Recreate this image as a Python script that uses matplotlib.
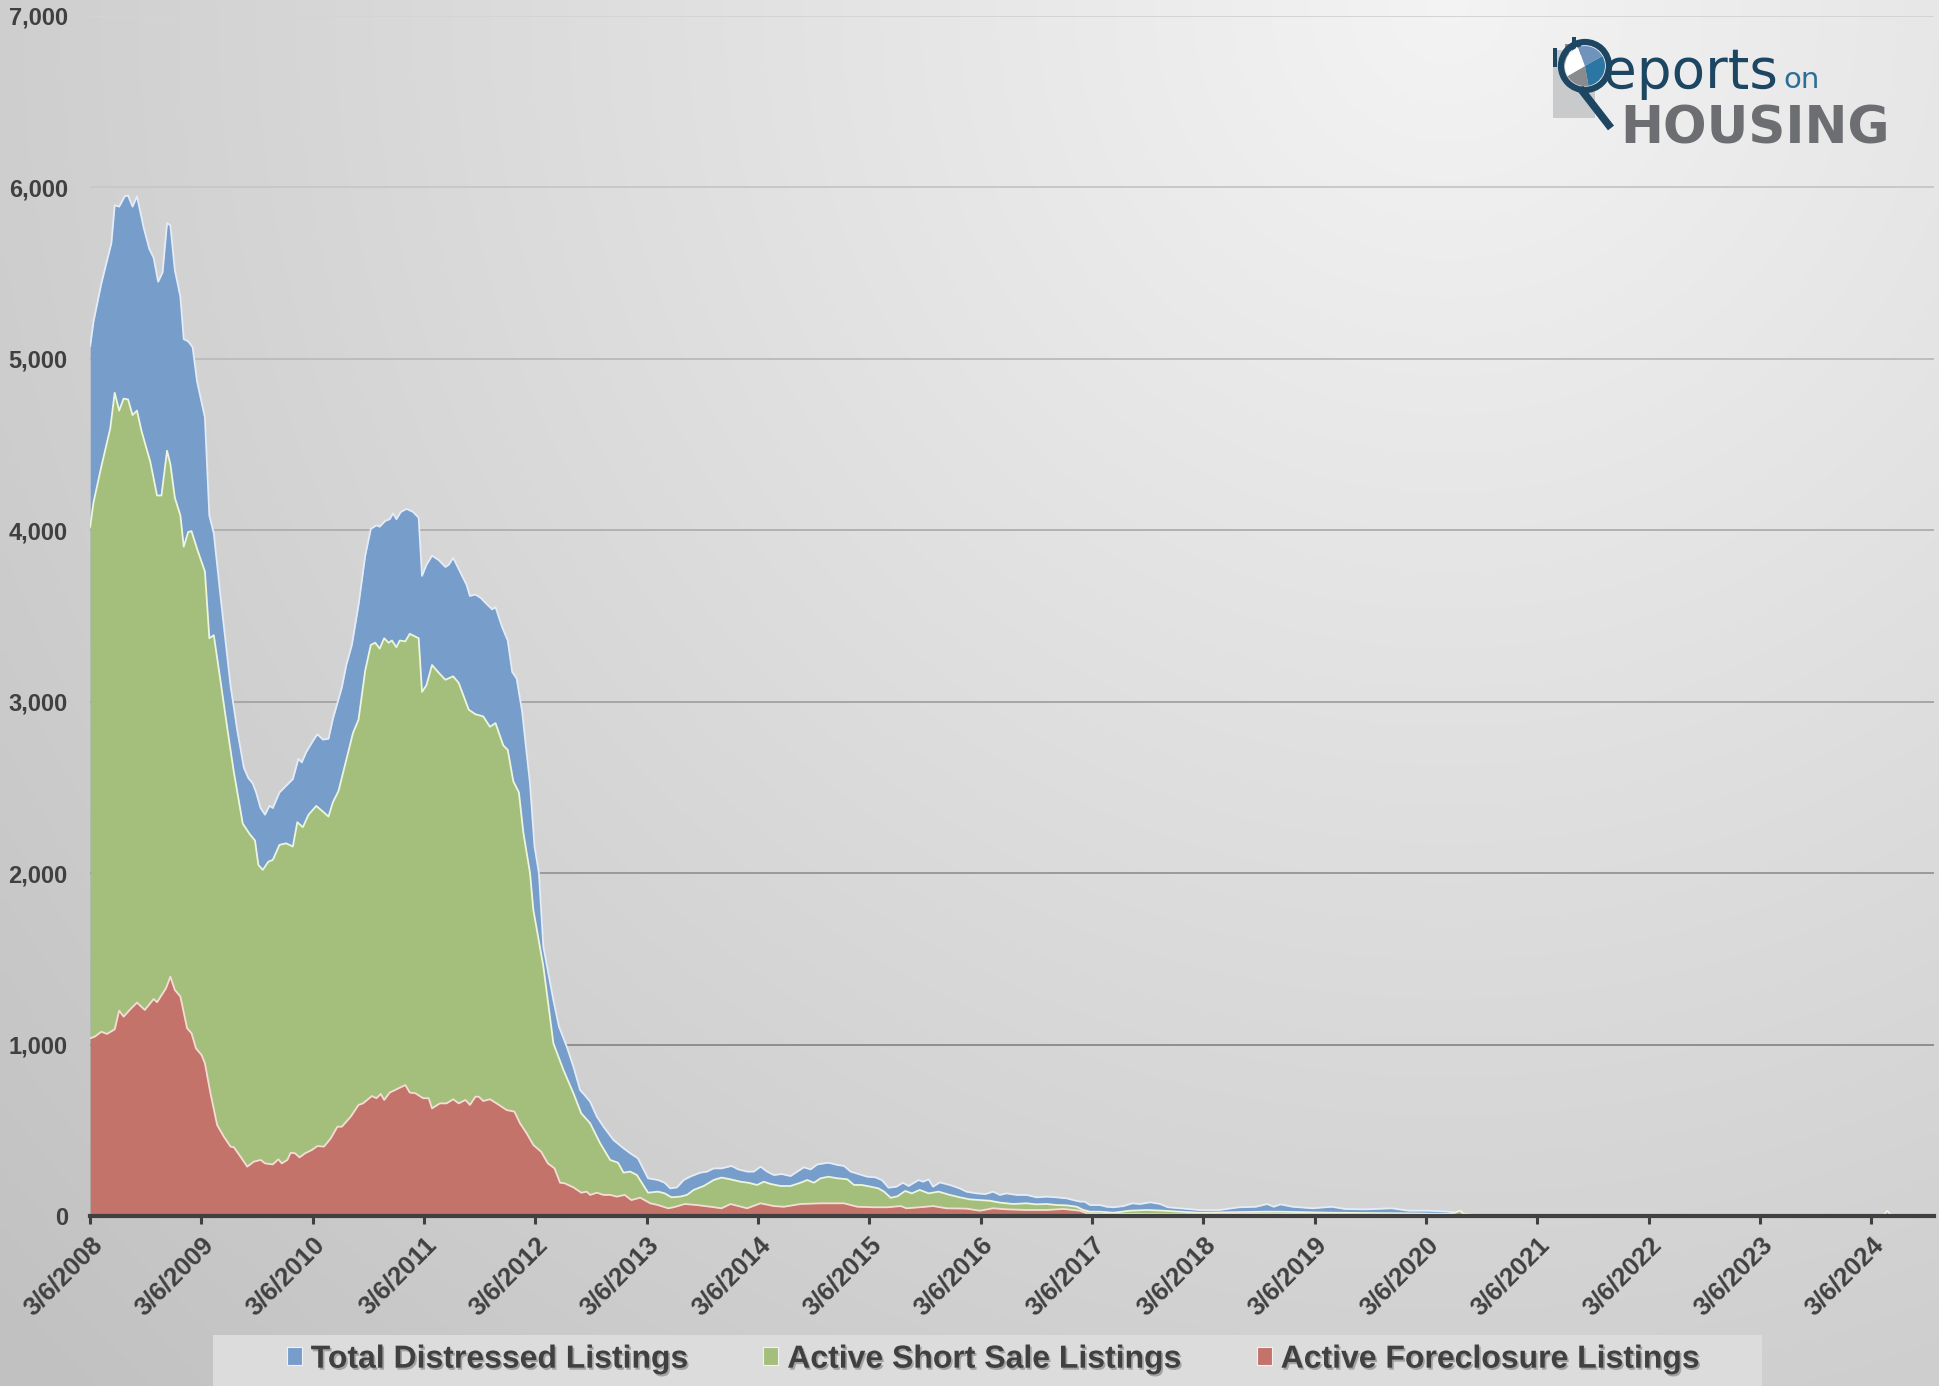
import numpy as np
import matplotlib
matplotlib.use("Agg")
import matplotlib.pyplot as plt
import matplotlib.patheffects as pe
from matplotlib import font_manager as fm
from matplotlib.patches import Rectangle, Circle, Wedge
from matplotlib.lines import Line2D

# ---------------- data ----------------
total_years = [
    2008.18, 2008.21, 2008.28, 2008.37, 2008.40, 2008.44, 2008.49, 2008.52, 2008.56, 2008.60,
    2008.66, 2008.71, 2008.75, 2008.79, 2008.83, 2008.87, 2008.90, 2008.94, 2008.99, 2009.02,
    2009.06, 2009.10, 2009.14, 2009.21, 2009.25, 2009.29, 2009.35, 2009.44, 2009.50, 2009.56,
    2009.60, 2009.64, 2009.67, 2009.71, 2009.75, 2009.79, 2009.82, 2009.88, 2009.94, 2010.00,
    2010.05, 2010.08, 2010.12, 2010.18, 2010.22, 2010.27, 2010.32, 2010.36, 2010.44, 2010.48,
    2010.53, 2010.59, 2010.65, 2010.70, 2010.75, 2010.78, 2010.83, 2010.87, 2010.90, 2010.93,
    2010.97, 2011.02, 2011.08, 2011.13, 2011.16, 2011.20, 2011.25, 2011.31, 2011.37, 2011.40,
    2011.44, 2011.50, 2011.56, 2011.59, 2011.64, 2011.69, 2011.74, 2011.79, 2011.82, 2011.88,
    2011.93, 2011.97, 2012.01, 2012.06, 2012.09, 2012.13, 2012.17, 2012.21, 2012.25, 2012.34,
    2012.39, 2012.46, 2012.52, 2012.58, 2012.62, 2012.67, 2012.73, 2012.79, 2012.88, 2012.97,
    2013.03, 2013.10, 2013.19, 2013.28, 2013.34, 2013.39, 2013.45, 2013.51, 2013.58, 2013.66,
    2013.72, 2013.78, 2013.85, 2013.94, 2014.00, 2014.08, 2014.14, 2014.20, 2014.26, 2014.32,
    2014.39, 2014.47, 2014.53, 2014.59, 2014.65, 2014.71, 2014.81, 2014.89, 2014.95, 2015.01,
    2015.08, 2015.16, 2015.23, 2015.29, 2015.35, 2015.42, 2015.48, 2015.53, 2015.62, 2015.66,
    2015.71, 2015.75, 2015.81, 2015.90, 2015.99, 2016.05, 2016.14, 2016.22, 2016.29, 2016.35,
    2016.41, 2016.50, 2016.59, 2016.68, 2016.77, 2016.86, 2016.95, 2017.01, 2017.07, 2017.11,
    2017.16, 2017.25, 2017.31, 2017.37, 2017.46, 2017.54, 2017.61, 2017.70, 2017.79, 2017.86,
    2017.97, 2018.14, 2018.32, 2018.50, 2018.65, 2018.75, 2018.81, 2018.87, 2018.98, 2019.16,
    2019.33, 2019.45, 2019.63, 2019.87, 2020.02, 2020.20, 2020.38, 2020.47, 2020.53, 2020.62,
    2020.75, 2024.74,
]
total_listings = [
    5075, 5219, 5440, 5675, 5896, 5888, 5948, 5953, 5888, 5948,
    5766, 5643, 5589, 5450, 5505, 5792, 5779, 5518, 5362, 5115,
    5102, 5068, 4867, 4659, 4086, 3982, 3617, 3096, 2836, 2615,
    2555, 2523, 2471, 2380, 2341, 2393, 2380, 2471, 2510, 2549,
    2667, 2646, 2706, 2771, 2810, 2779, 2784, 2901, 3083, 3214,
    3331, 3565, 3852, 4008, 4029, 4021, 4055, 4065, 4099, 4065,
    4107, 4125, 4107, 4073, 3734, 3799, 3852, 3826, 3786, 3799,
    3839, 3760, 3682, 3617, 3625, 3604, 3570, 3539, 3552, 3435,
    3357, 3174, 3135, 2940, 2758, 2523, 2159, 2000, 1571, 1260,
    1105, 988, 871, 735, 706, 667, 580, 521, 443, 395,
    366, 336, 220, 210, 194, 161, 167, 210, 233, 253,
    259, 278, 278, 292, 272, 259, 259, 288, 259, 239,
    245, 233, 259, 284, 272, 301, 311, 298, 292, 259,
    245, 229, 226, 210, 165, 171, 194, 175, 210, 200,
    214, 171, 196, 181, 161, 142, 132, 128, 142, 123,
    132, 123, 123, 109, 113, 109, 103, 93, 84, 84,
    64, 64, 54, 51, 58, 74, 70, 80, 70, 51,
    45, 35, 35, 51, 54, 70, 54, 68, 54, 45,
    54, 41, 39, 45, 31, 31, 25, 16, 12, 6,
    0, 0,
]

short_years = [
    2008.18, 2008.21, 2008.28, 2008.36, 2008.40, 2008.44, 2008.48, 2008.52, 2008.56, 2008.60,
    2008.64, 2008.72, 2008.78, 2008.82, 2008.87, 2008.90, 2008.94, 2008.99, 2009.02, 2009.06,
    2009.09, 2009.14, 2009.21, 2009.25, 2009.29, 2009.35, 2009.41, 2009.47, 2009.55, 2009.61,
    2009.66, 2009.69, 2009.73, 2009.78, 2009.82, 2009.88, 2009.94, 2010.00, 2010.04, 2010.09,
    2010.14, 2010.21, 2010.27, 2010.32, 2010.36, 2010.41, 2010.48, 2010.54, 2010.59, 2010.65,
    2010.70, 2010.74, 2010.78, 2010.82, 2010.86, 2010.89, 2010.93, 2010.96, 2011.01, 2011.05,
    2011.13, 2011.16, 2011.20, 2011.25, 2011.31, 2011.37, 2011.44, 2011.49, 2011.58, 2011.64,
    2011.71, 2011.77, 2011.82, 2011.89, 2011.93, 2011.98, 2012.03, 2012.07, 2012.13, 2012.16,
    2012.25, 2012.34, 2012.43, 2012.52, 2012.59, 2012.67, 2012.76, 2012.85, 2012.92, 2012.97,
    2013.03, 2013.09, 2013.19, 2013.28, 2013.34, 2013.40, 2013.48, 2013.54, 2013.60, 2013.69,
    2013.78, 2013.85, 2013.93, 2014.02, 2014.09, 2014.17, 2014.23, 2014.29, 2014.38, 2014.47,
    2014.56, 2014.62, 2014.68, 2014.74, 2014.81, 2014.89, 2014.98, 2015.04, 2015.11, 2015.19,
    2015.26, 2015.31, 2015.37, 2015.43, 2015.50, 2015.56, 2015.63, 2015.71, 2015.80, 2015.90,
    2015.99, 2016.08, 2016.17, 2016.26, 2016.35, 2016.47, 2016.59, 2016.68, 2016.77, 2016.86,
    2016.95, 2017.04, 2017.10, 2017.16, 2017.25, 2017.37, 2017.52, 2017.67, 2017.82, 2017.97,
    2018.14, 2018.74, 2018.86, 2019.33, 2019.93, 2020.41, 2020.48, 2020.53, 2020.70, 2024.28,
    2024.32, 2024.36, 2024.74,
]
short_sales = [
    4021, 4164, 4372, 4594, 4802, 4698, 4768, 4763, 4672, 4698,
    4581, 4398, 4203, 4203, 4464, 4385, 4190, 4086, 3904, 3990,
    3995, 3891, 3760, 3370, 3388, 3122, 2849, 2589, 2289, 2230,
    2190, 2048, 2019, 2067, 2077, 2165, 2174, 2155, 2297, 2268,
    2340, 2392, 2359, 2330, 2414, 2479, 2661, 2817, 2896, 3182,
    3331, 3344, 3310, 3370, 3344, 3357, 3318, 3357, 3352, 3396,
    3370, 3057, 3096, 3214, 3169, 3128, 3148, 3109, 2953, 2927,
    2914, 2854, 2875, 2745, 2719, 2536, 2471, 2237, 2000, 1785,
    1455, 1007, 852, 716, 599, 541, 424, 327, 311, 253,
    259, 239, 136, 142, 132, 109, 113, 123, 152, 175,
    210, 224, 214, 200, 194, 181, 200, 187, 175, 175,
    194, 210, 194, 220, 229, 220, 214, 181, 181, 171,
    161, 142, 106, 115, 146, 132, 152, 132, 142, 123,
    109, 97, 93, 89, 78, 70, 74, 68, 70, 64,
    62, 54, 35, 25, 25, 19, 31, 35, 31, 25,
    19, 25, 25, 19, 16, 12, 31, 6, 0, 0,
    30, 0, 0,
]

foreclosure_years = [
    2008.18, 2008.22, 2008.28, 2008.33, 2008.40, 2008.44, 2008.48, 2008.54, 2008.60, 2008.67,
    2008.75, 2008.78, 2008.86, 2008.90, 2008.94, 2008.99, 2009.05, 2009.09, 2009.13, 2009.18,
    2009.21, 2009.26, 2009.32, 2009.38, 2009.44, 2009.47, 2009.53, 2009.59, 2009.65, 2009.71,
    2009.75, 2009.82, 2009.87, 2009.90, 2009.95, 2009.98, 2010.02, 2010.06, 2010.11, 2010.17,
    2010.22, 2010.28, 2010.34, 2010.40, 2010.44, 2010.52, 2010.59, 2010.63, 2010.71, 2010.75,
    2010.79, 2010.82, 2010.87, 2010.93, 2011.01, 2011.05, 2011.10, 2011.17, 2011.22, 2011.25,
    2011.32, 2011.38, 2011.44, 2011.49, 2011.55, 2011.59, 2011.64, 2011.67, 2011.71, 2011.77,
    2011.83, 2011.92, 2011.99, 2012.04, 2012.10, 2012.16, 2012.23, 2012.29, 2012.35, 2012.40,
    2012.44, 2012.52, 2012.59, 2012.64, 2012.67, 2012.73, 2012.79, 2012.85, 2012.91, 2012.98,
    2013.04, 2013.12, 2013.21, 2013.28, 2013.37, 2013.42, 2013.52, 2013.63, 2013.75, 2013.85,
    2013.93, 2014.08, 2014.20, 2014.32, 2014.41, 2014.56, 2014.74, 2014.86, 2014.95, 2015.07,
    2015.22, 2015.34, 2015.46, 2015.51, 2015.63, 2015.75, 2015.87, 2016.05, 2016.17, 2016.29,
    2016.41, 2016.59, 2016.77, 2016.92, 2017.07, 2017.13, 2017.25, 2017.52, 2017.97, 2018.50,
    2019.00, 2019.60, 2020.20, 2020.60, 2024.74,
]
foreclosures = [
    1037, 1046, 1075, 1062, 1089, 1198, 1163, 1206, 1245, 1202,
    1266, 1247, 1328, 1396, 1319, 1280, 1095, 1066, 978, 939,
    891, 716, 531, 463, 405, 401, 346, 288, 317, 327,
    307, 301, 331, 307, 327, 369, 366, 342, 366, 385,
    408, 405, 453, 521, 521, 580, 648, 657, 700, 687,
    712, 677, 720, 739, 764, 720, 716, 687, 687, 628,
    657, 657, 681, 657, 677, 648, 696, 696, 671, 681,
    657, 618, 609, 541, 482, 414, 375, 307, 278, 194,
    191, 167, 136, 142, 123, 136, 123, 123, 113, 123,
    93, 107, 74, 64, 45, 51, 70, 64, 54, 45,
    70, 45, 74, 58, 54, 70, 74, 74, 74, 54,
    51, 51, 58, 45, 51, 58, 45, 43, 31, 45,
    39, 35, 35, 41, 31, 16, 12, 12, 10, 16,
    12, 12, 6, 0, 0,
]

tick_years = list(range(2008, 2025))
series_names = ["Total Distressed Listings", "Active Short Sale Listings",
                "Active Foreclosure Listings"]
series_colors = ["#779ecb", "#a3bf7b", "#c3736a"]
edge_colors = ["#e4ecf7", "#eef5dc", "#f6dcd6"]


def pick_font(*names):
    for n in names:
        try:
            fm.findfont(fm.FontProperties(family=n), fallback_to_default=False)
            return n
        except ValueError:
            pass
    return "DejaVu Sans"


sans = pick_font("Liberation Sans", "Arial")
narrow = pick_font("Liberation Sans Narrow", "Liberation Sans")

W, H = 1940, 1386
fig = plt.figure(figsize=(W / 100, H / 100), dpi=100)

# ---------- gradient background ----------
bg = fig.add_axes([0, 0, 1, 1], zorder=-5)
gx, gy = np.meshgrid(np.linspace(0, W, 200), np.linspace(0, H, 140))
dist = np.hypot(gx - 1450, gy)
shade = np.clip(0.955 - 1.0e-4 * dist, 0.76, 0.96)
bg.imshow(np.dstack([shade] * 3), extent=[0, W, H, 0], aspect="auto",
          interpolation="bilinear")
bg.set_xlim(0, W)
bg.set_ylim(H, 0)
bg.axis("off")

# ---------- main chart ----------
ax = fig.add_axes([90 / W, 1 - 1216 / H, 1844 / W, 1200 / H], zorder=1)
ax.set_facecolor("none")

ax.set_xlim(2008.178, 2024.74)
ax.set_ylim(0, 7000)

# gridlines get darker towards the bottom, as in the original
for k, level in enumerate(range(1000, 8000, 1000)):
    g = 0.56 + 0.045 * k
    ax.axhline(level, color=(g, g, g), lw=1.4, zorder=0)

series = [
    (total_years, total_listings),
    (short_years, short_sales),
    (foreclosure_years, foreclosures),
]
for i, (xs, ys) in enumerate(series):
    xs = np.asarray(xs)
    ys = np.asarray(ys)
    ax.fill_between(xs, 0, ys, color=series_colors[i], lw=0, zorder=2 + i)
    ax.plot(xs, ys, color=edge_colors[i], lw=1.3, zorder=2 + i)

for side in ["top", "right", "left"]:
    ax.spines[side].set_visible(False)
ax.spines["bottom"].set_color("#404040")
ax.spines["bottom"].set_linewidth(3)
ax.spines["bottom"].set_zorder(10)

ax.set_yticks(range(0, 8000, 1000))
ax.set_yticklabels([f"{v:,}" for v in range(0, 8000, 1000)])
ax.tick_params(axis="y", length=0, pad=16, labelsize=17, labelcolor="#404040")
for lab in ax.get_yticklabels():
    lab.set_fontfamily(sans)
    lab.set_fontweight("bold")

ax.set_xticks([y + 0.178 for y in tick_years])
ax.set_xticklabels([f"3/6/{y}" for y in tick_years], rotation=45, ha="right",
                   rotation_mode="anchor")
ax.tick_params(axis="x", direction="out", length=6, width=2.2, color="#404040",
               pad=6, labelsize=18.5, labelcolor="#404040")
for lab in ax.get_xticklabels():
    lab.set_fontfamily(sans)
    lab.set_fontweight("bold")

# ---------- legend ----------
fig.add_artist(Rectangle((213 / W, 0), 1549 / W, 51 / H, transform=fig.transFigure,
                         facecolor="#dcdcdc", edgecolor="none", zorder=2))
handles = [Rectangle((0, 0), 1, 1, facecolor=c, edgecolor="#f2f2f2", lw=0.8)
           for c in series_colors]
leg = fig.legend(handles, series_names, loc="center", bbox_to_anchor=(0.512, 0.019),
                 ncol=3, frameon=False, handlelength=0.47, handleheight=0.5,
                 handletextpad=0.28, columnspacing=2.35, borderpad=0,
                 prop={"family": narrow, "weight": "bold", "size": 23})
leg.set_zorder(3)
for t in leg.get_texts():
    t.set_color("#404040")
    t.set_path_effects([pe.SimplePatchShadow(offset=(1.2, -1.5), shadow_rgbFace="#8c8c8c",
                                             alpha=0.7), pe.Normal()])

# ---------- logo (pixel coordinates of its own box) ----------
lg = fig.add_axes([1540 / W, 1 - 175 / H, 400 / W, 155 / H], zorder=4)
lg.set_xlim(1540, 1940)
lg.set_ylim(175, 20)
lg.axis("off")
navy = "#1c4662"
lg.add_patch(Rectangle((1553, 50), 42, 68, facecolor="#c9cacc", edgecolor="none"))
for bx, top, col in [(1553, 48, navy), (1565, 44, "#8c8d90"), (1572, 37, navy),
                     (1577, 42, navy)]:
    lg.add_patch(Rectangle((bx, top), 4, 67 - top, facecolor=col, edgecolor="none"))
cx, cy, r = 1585, 66, 20
lg.add_patch(Wedge((cx, cy), r, -30, 80, facecolor="#2c76a3", edgecolor="none"))
lg.add_patch(Wedge((cx, cy), r, 80, 150, facecolor="#8a8b8e", edgecolor="none"))
lg.add_patch(Wedge((cx, cy), r, 150, 250, facecolor="white", edgecolor="none"))
lg.add_patch(Wedge((cx, cy), r, 250, 330, facecolor="#6f93bb", edgecolor="none"))
lg.add_patch(Circle((cx, cy), 24, facecolor="none", edgecolor=navy, lw=4.5))
lg.add_line(Line2D([1580, 1611], [88, 128], color=navy, lw=5.5, solid_capstyle="butt"))
lg.text(1603, 88, "eports", color=navy, fontsize=39.5, family="DejaVu Sans",
        va="baseline", ha="left")
lg.text(1783, 88, "on", color="#2b6f98", fontsize=21, family="DejaVu Sans",
        va="baseline", ha="left")
lg.text(1620, 143, "HOUSING", color="#6d6e71", fontsize=37, family="DejaVu Sans",
        fontweight="bold", va="baseline", ha="left")

fig.savefig("out.png", dpi=100)
